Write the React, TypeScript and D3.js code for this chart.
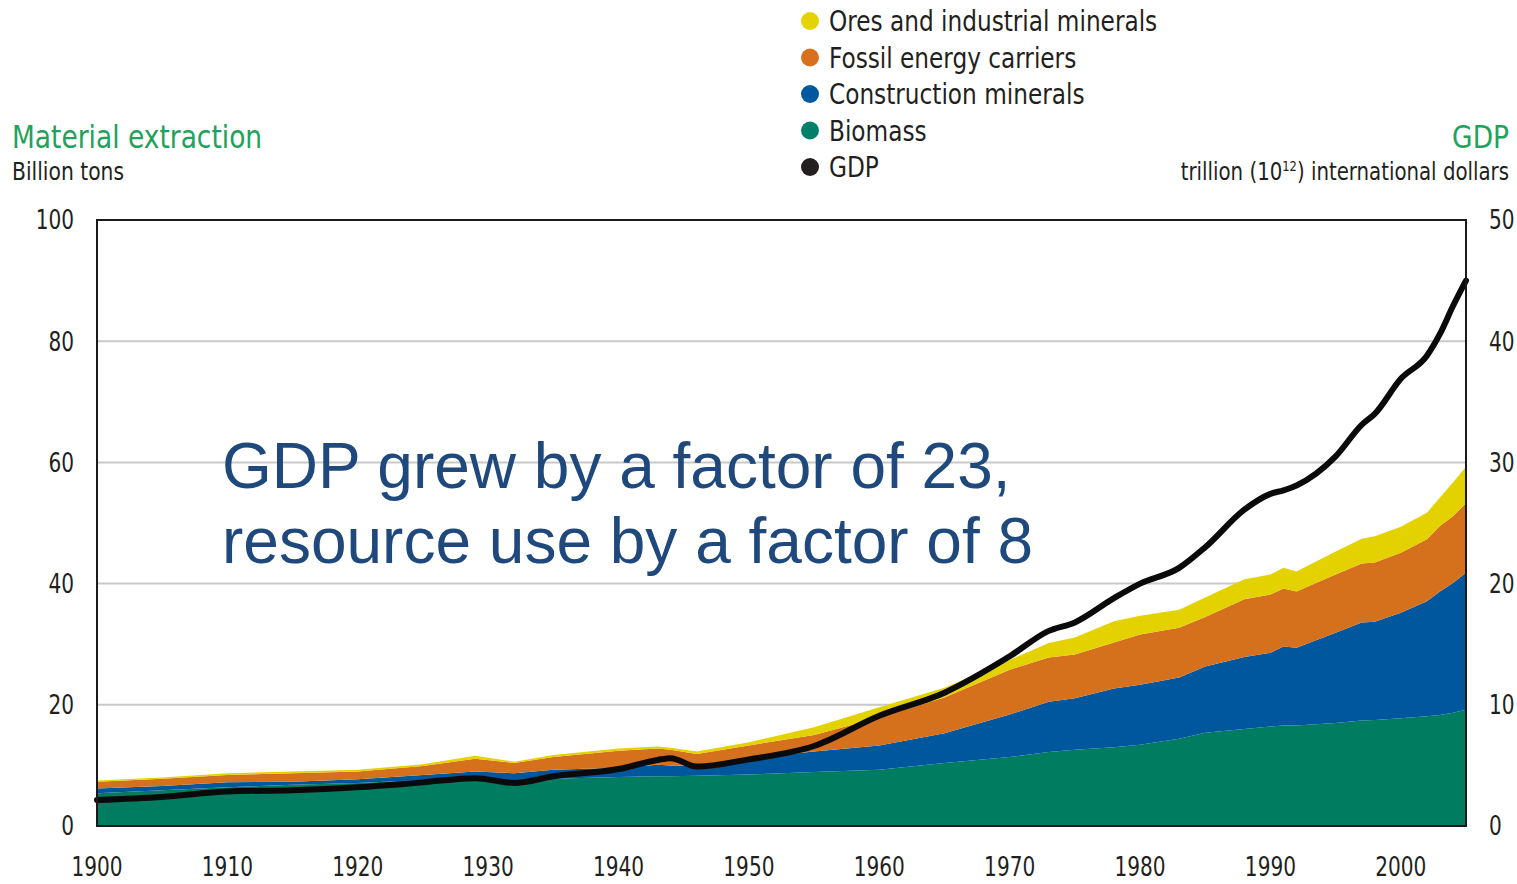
import * as d3 from "d3";

// values (billion tons / trillion intl. dollars)
const years = [
  1900, 1905, 1910, 1915, 1920, 1925, 1929, 1932, 1935, 1940, 1943, 1944, 1946, 1950, 1955, 1960,
  1965, 1970, 1973, 1975, 1978, 1980, 1983, 1985, 1988, 1990, 1991, 1992, 1995, 1997, 1998, 2000,
  2002, 2003, 2004, 2005,
];
const biomass = [
  5.4, 5.9, 6.4, 6.8, 7.1, 7.6, 7.7, 7.5, 7.8, 8.1, 8.2, 8.2, 8.3, 8.5, 8.9, 9.3,
  10.4, 11.4, 12.2, 12.6, 13.0, 13.4, 14.4, 15.4, 16.0, 16.4, 16.6, 16.6, 17.0, 17.4, 17.5, 17.8,
  18.1, 18.3, 18.7, 19.2,
];
const construction = [
  0.8, 0.7, 0.8, 0.5, 0.6, 0.8, 1.3, 1.2, 1.5, 1.5, 1.9, 1.8, 1.6, 2.7, 3.4, 4.0,
  4.9, 7.0, 8.3, 8.5, 9.7, 9.9, 10.1, 10.9, 11.9, 12.2, 13.0, 12.8, 14.9, 16.2, 16.2, 17.4,
  19.0, 20.4, 21.4, 22.6,
];
const fossil = [
  1.1, 1.2, 1.2, 1.4, 1.3, 1.5, 2.1, 1.7, 2.1, 2.8, 2.7, 2.6, 2.0, 2.1, 2.7, 4.6,
  5.9, 7.4, 7.3, 7.2, 7.6, 8.3, 8.2, 8.2, 9.5, 9.6, 9.6, 9.3, 9.6, 9.7, 9.8, 9.9,
  10.2, 10.8, 11.0, 11.5,
];
const ores = [
  0.2, 0.2, 0.3, 0.3, 0.3, 0.3, 0.5, 0.2, 0.3, 0.4, 0.3, 0.3, 0.4, 0.5, 1.3, 1.7,
  1.6, 1.6, 2.4, 2.8, 3.5, 3.1, 3.0, 3.2, 3.3, 3.3, 3.4, 3.3, 3.8, 4.1, 4.3, 4.3,
  4.4, 4.7, 5.6, 6.0,
];
const gdp = [
  2.15, 2.4, 2.85, 2.95, 3.2, 3.6, 3.95, 3.55, 4.1, 4.7, 5.45, 5.6, 4.9, 5.5, 6.6, 9.1,
  11.0, 14.0, 16.1, 16.8, 18.8, 20.0, 21.3, 23.0, 26.1, 27.4, 27.7, 28.1, 30.5, 33.1, 34.0, 36.9,
  38.8, 40.6, 42.9, 45.0,
];

const leftTicks = [0, 20, 40, 60, 80, 100];
const rightTicks = [0, 10, 20, 30, 40, 50];
const yearTicks = [1900, 1910, 1920, 1930, 1940, 1950, 1960, 1970, 1980, 1990, 2000];

const keys = ["biomass", "construction", "fossil", "ores"];
const colors: Record<string, string> = {
  biomass: "#007c60",
  construction: "#00579e",
  fossil: "#d5711d",
  ores: "#e3d200",
};
const legend = [
  { label: "Ores and industrial minerals", color: "#e5d300" },
  { label: "Fossil energy carriers", color: "#d8701e" },
  { label: "Construction minerals", color: "#0058a0" },
  { label: "Biomass", color: "#00806a" },
  { label: "GDP", color: "#231f20" },
];

const W = 1517;
const H = 884;
const plot = { left: 97, right: 1466, top: 220, bottom: 826 };
const NARROW = "'DejaVu Sans Condensed', 'DejaVu Sans', sans-serif";
const TEXT = "#231f20";
const GREEN = "#22a15b";

// condensed text: DejaVu squeezed horizontally to mimic the narrow original face
function T({
  x,
  y,
  sx,
  size,
  anchor = "start",
  fill = TEXT,
  dy,
  children,
}: {
  x: number;
  y: number;
  sx: number;
  size: number;
  anchor?: "start" | "middle" | "end";
  fill?: string;
  dy?: string;
  children: React.ReactNode;
}) {
  return (
    <g transform={`translate(${x},${y}) scale(${sx},1)`}>
      <text textAnchor={anchor} dy={dy} fontFamily={NARROW} fontSize={size} fill={fill}>
        {children}
      </text>
    </g>
  );
}

export default function App() {
  const rows = years.map((year, i) => ({
    year,
    biomass: biomass[i],
    construction: construction[i],
    fossil: fossil[i],
    ores: ores[i],
    gdp: gdp[i],
  }));

  const x = d3.scaleLinear().domain([1900, 2005]).range([plot.left, plot.right]);
  const y = d3.scaleLinear().domain([0, 100]).range([plot.bottom, plot.top]);
  const yG = d3.scaleLinear().domain([0, 50]).range([plot.bottom, plot.top]);

  const stacked = d3.stack<any>().keys(keys)(rows);
  const area = d3
    .area<any>()
    .x((d) => x(d.data.year))
    .y0((d) => y(d[0]))
    .y1((d) => y(d[1]));
  const line = d3
    .line<any>()
    .x((d) => x(d.year))
    .y((d) => yG(d.gdp))
    .curve(d3.curveMonotoneX);

  return (
    <svg
      width={W}
      height={H}
      style={{ position: "absolute", left: 0, top: 0, background: "#fff" }}
    >
      {/* gridlines */}
      {leftTicks
        .filter((t) => t > 0 && t < 100)
        .map((t) => (
          <line
            key={t}
            x1={plot.left}
            x2={plot.right}
            y1={y(t)}
            y2={y(t)}
            stroke="#c9c9c9"
            strokeWidth={2}
          />
        ))}

      {stacked.map((s) => (
        <path key={s.key} d={area(s) ?? ""} fill={colors[s.key]} />
      ))}

      <path
        d={line(rows) ?? ""}
        fill="none"
        stroke="#0a0a0a"
        strokeWidth={6}
        strokeLinejoin="round"
        strokeLinecap="round"
      />

      <rect
        x={plot.left}
        y={plot.top}
        width={plot.right - plot.left}
        height={plot.bottom - plot.top}
        fill="none"
        stroke="#1a1a1a"
        strokeWidth={2}
      />

      {/* left axis */}
      {leftTicks.map((t) => (
        <T key={t} x={74} y={y(t)} dy="0.36em" sx={0.86} size={26} anchor="end">
          {t}
        </T>
      ))}
      {/* right axis */}
      {rightTicks.map((t) => (
        <T key={t} x={1489} y={yG(t)} dy="0.36em" sx={0.86} size={26}>
          {t}
        </T>
      ))}
      {/* bottom axis */}
      {yearTicks.map((t) => (
        <T key={t} x={x(t)} y={876} sx={0.86} size={26} anchor="middle">
          {t}
        </T>
      ))}

      {/* axis titles */}
      <T x={12} y={148} sx={0.92} size={32} fill={GREEN}>
        Material extraction
      </T>
      <T x={12} y={180} sx={0.94} size={24}>
        Billion tons
      </T>
      <T x={1509} y={148} sx={0.92} size={32} anchor="end" fill={GREEN}>
        GDP
      </T>
      <T x={1509} y={180} sx={0.915} size={24} anchor="end">
        trillion (10
        <tspan fontSize={14} dy={-9}>
          12
        </tspan>
        <tspan dy={9}>) international dollars</tspan>
      </T>

      {/* legend */}
      {legend.map((l, i) => (
        <g key={l.label}>
          <circle cx={810} cy={21 + i * 36.5} r={9} fill={l.color} />
          <T x={829} y={21 + i * 36.5} dy="0.36em" sx={0.89} size={29}>
            {l.label}
          </T>
        </g>
      ))}

      {/* annotation */}
      <text
        x={222}
        y={488}
        fontFamily="'Liberation Sans', Arial, sans-serif"
        fontSize={64}
        fill="#1f497d"
      >
        <tspan x={222}>GDP grew by a factor of 23,</tspan>
        <tspan x={222} dy={75}>
          resource use by a factor of 8
        </tspan>
      </text>
    </svg>
  );
}
